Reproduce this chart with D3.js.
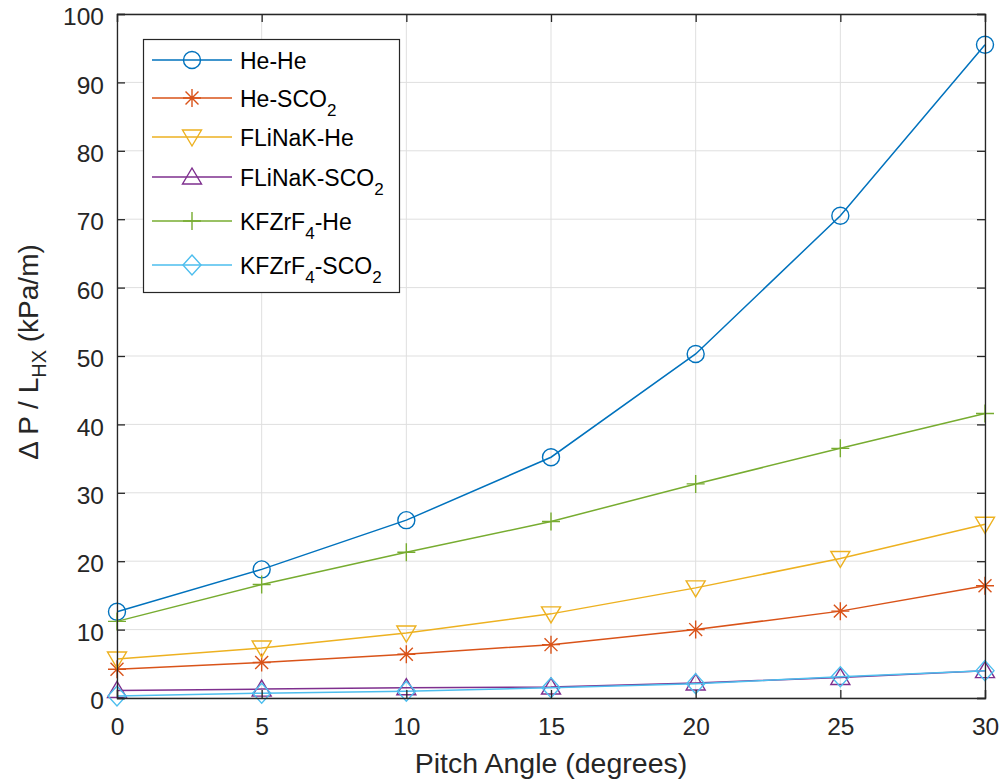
<!DOCTYPE html>
<html><head><meta charset="utf-8">
<script src="https://cdn.jsdelivr.net/npm/d3@7"></script>
<style>body{margin:0;background:#fff;} svg{font-family:"Liberation Sans",Arial,sans-serif;}</style>
</head><body>
<svg id="c" width="1002" height="784"></svg>
<script>
const angles = [0, 5, 10, 15, 20, 25, 30];
const heHe = [12.6, 18.8, 26.0, 35.2, 50.3, 70.5, 95.5];
const heSCO2 = [4.2, 5.2, 6.4, 7.8, 10.0, 12.7, 16.4];
const flinakHe = [5.7, 7.3, 9.5, 12.3, 16.1, 20.4, 25.4];
const flinakSCO2 = [1.1, 1.3, 1.5, 1.6, 2.2, 3.0, 4.0];
const kfzrHe = [11.2, 16.6, 21.3, 25.8, 31.3, 36.5, 41.6];
const kfzrSCO2 = [0.3, 0.7, 1.0, 1.5, 2.1, 3.1, 4.0];
const xTicks = [0, 5, 10, 15, 20, 25, 30];
const yTicks = [0, 10, 20, 30, 40, 50, 60, 70, 80, 90, 100];

const series = [
  {name: "He-He", values: heHe, color: "#0072BD", marker: "circle"},
  {name: "He-SCO2", values: heSCO2, color: "#D95319", marker: "star"},
  {name: "FLiNaK-He", values: flinakHe, color: "#EDB120", marker: "tridown"},
  {name: "FLiNaK-SCO2", values: flinakSCO2, color: "#7E2F8E", marker: "triup"},
  {name: "KFZrF4-He", values: kfzrHe, color: "#77AC30", marker: "plus"},
  {name: "KFZrF4-SCO2", values: kfzrSCO2, color: "#4DBEEE", marker: "diamond"}
];

const svg = d3.select("#c");
const L = 117, R = 985, T = 14, B = 698;
const x = d3.scaleLinear().domain([0, 30]).range([L, R]);
const y = d3.scaleLinear().domain([0, 100]).range([B, T]);
const axisColor = "#262626";

// grid
const g = svg.append("g");
g.selectAll(".gx").data(xTicks).enter().append("line")
  .attr("x1", d => x(d)).attr("x2", d => x(d)).attr("y1", T).attr("y2", B)
  .attr("stroke", "#dfdfdf").attr("stroke-width", 1);
g.selectAll(".gy").data(yTicks).enter().append("line")
  .attr("y1", d => y(d)).attr("y2", d => y(d)).attr("x1", L).attr("x2", R)
  .attr("stroke", "#dfdfdf").attr("stroke-width", 1);

// markers
function drawMarker(sel, type, color, cx, cy) {
  const s = 9;
  if (type === "circle") {
    sel.append("circle").attr("cx", cx).attr("cy", cy).attr("r", 8.5)
      .attr("fill", "none").attr("stroke", color).attr("stroke-width", 1.4);
  } else if (type === "star") {
    const p = [];
    p.push(`M${cx-s},${cy}L${cx+s},${cy}`);
    p.push(`M${cx},${cy-s}L${cx},${cy+s}`);
    const d = s * 0.72;
    p.push(`M${cx-d},${cy-d}L${cx+d},${cy+d}`);
    p.push(`M${cx-d},${cy+d}L${cx+d},${cy-d}`);
    sel.append("path").attr("d", p.join("")).attr("stroke", color).attr("stroke-width", 1.4).attr("fill", "none");
  } else if (type === "tridown") {
    sel.append("path").attr("d", `M${cx-9.5},${cy-7}L${cx+9.5},${cy-7}L${cx},${cy+9}Z`)
      .attr("fill", "none").attr("stroke", color).attr("stroke-width", 1.4);
  } else if (type === "triup") {
    sel.append("path").attr("d", `M${cx-9.5},${cy+7}L${cx+9.5},${cy+7}L${cx},${cy-9}Z`)
      .attr("fill", "none").attr("stroke", color).attr("stroke-width", 1.4);
  } else if (type === "plus") {
    sel.append("path").attr("d", `M${cx-9},${cy}L${cx+9},${cy}M${cx},${cy-9}L${cx},${cy+9}`)
      .attr("stroke", color).attr("stroke-width", 1.4);
  } else if (type === "diamond") {
    sel.append("path").attr("d", `M${cx},${cy-10}L${cx+9},${cy}L${cx},${cy+10}L${cx-9},${cy}Z`)
      .attr("fill", "none").attr("stroke", color).attr("stroke-width", 1.4);
  }
}

// lines
const line = d3.line().x((d, i) => x(angles[i])).y(d => y(d));
series.forEach(s => {
  const sg = svg.append("g");
  sg.append("path").datum(s.values).attr("d", line)
    .attr("fill", "none").attr("stroke", s.color).attr("stroke-width", 1.5);
  s.values.forEach((v, i) => drawMarker(sg, s.marker, s.color, x(angles[i]), y(v)));
});

// axes
const fs = 24.5;
const xAxis = d3.axisBottom(x).tickValues(xTicks).tickSize(-8).tickPadding(20).tickFormat(d3.format("d"));
const yAxis = d3.axisLeft(y).tickValues(yTicks).tickSize(-8).tickPadding(13).tickFormat(d3.format("d"));
const ax = svg.append("g").attr("transform", `translate(0,${B})`).call(xAxis);
const ay = svg.append("g").attr("transform", `translate(${L},0)`).call(yAxis);
const axTop = svg.append("g").attr("transform", `translate(0,${T})`).call(d3.axisTop(x).tickValues(xTicks).tickSize(-8).tickFormat(""));
const ayR = svg.append("g").attr("transform", `translate(${R},0)`).call(d3.axisRight(y).tickValues(yTicks).tickSize(-8).tickFormat(""));
[ax, ay, axTop, ayR].forEach(a => {
  a.select(".domain").attr("stroke", axisColor).attr("stroke-width", 1.3);
  a.selectAll(".tick line").attr("stroke", axisColor).attr("stroke-width", 1.3);
  a.selectAll(".tick text").attr("fill", axisColor).style("font-size", fs + "px").style("font-family", "'Liberation Sans', Arial, sans-serif");
});
ay.selectAll(".tick text").attr("dy", "0.44em");

// axis labels
svg.append("text").attr("x", 551).attr("y", 773).attr("text-anchor", "middle")
  .attr("fill", axisColor).style("font-size", "28.5px").text("Pitch Angle (degrees)");
const yl = svg.append("text").attr("transform", `translate(38,352) rotate(-90)`)
  .attr("text-anchor", "middle").attr("fill", axisColor).style("font-size", "28px");
yl.append("tspan").text("Δ P / L");
yl.append("tspan").attr("dy", 8).style("font-size", "20px").text("HX");
yl.append("tspan").attr("dy", -8).text(" (kPa/m)");

// legend
const lg = svg.append("g");
lg.append("rect").attr("x", 143.5).attr("y", 39.5).attr("width", 256).attr("height", 253)
  .attr("fill", "#fff").attr("stroke", axisColor).attr("stroke-width", 1.2);
const rowsY = [60, 98, 137, 177, 221, 265];
const labelParts = [
  [["He-He", 0]],
  [["He-SCO", 0], ["2", 1]],
  [["FLiNaK-He", 0]],
  [["FLiNaK-SCO", 0], ["2", 1]],
  [["KFZrF", 0], ["4", 1], ["-He", 0]],
  [["KFZrF", 0], ["4", 1], ["-SCO", 0], ["2", 1]]
];
series.forEach((s, i) => {
  const yy = rowsY[i];
  lg.append("line").attr("x1", 152).attr("x2", 232).attr("y1", yy).attr("y2", yy)
    .attr("stroke", s.color).attr("stroke-width", 1.5);
  drawMarker(lg, s.marker, s.color, 192, yy);
  const t = lg.append("text").attr("x", 240).attr("y", yy + 9).attr("fill", "#000").style("font-size", "23px");
  let sub = false;
  labelParts[i].forEach(([txt, isSub]) => {
    const ts = t.append("tspan").text(txt);
    if (isSub && !sub) { ts.attr("dy", 9).style("font-size", "17px"); sub = true; }
    else if (!isSub && sub) { ts.attr("dy", -9); sub = false; }
    else if (isSub) ts.style("font-size", "17px");
  });
});
</script>
</body></html>
